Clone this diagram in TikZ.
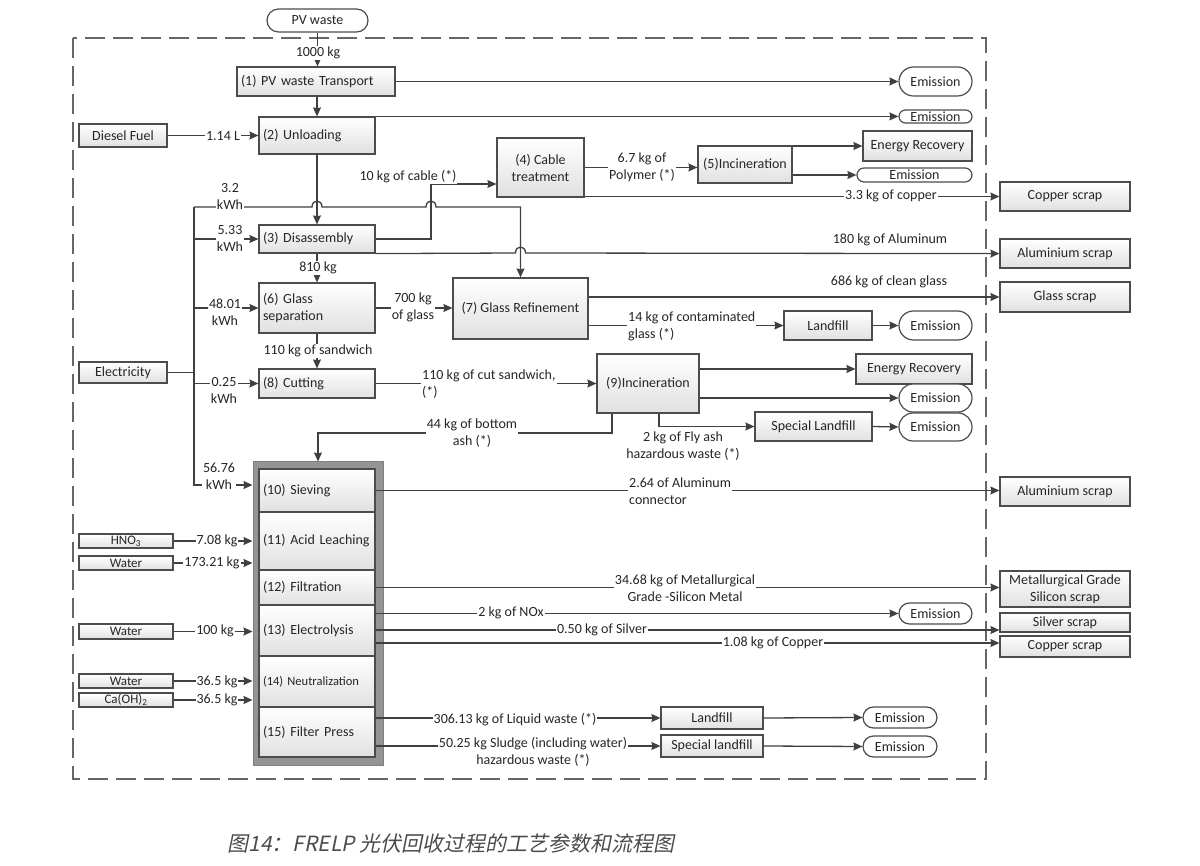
\documentclass[tikz,border=0pt]{standalone}
\usepackage{fontspec}
\setmainfont{Carlito}
\newfontfamily\cjk[FakeSlant=0.2]{Noto Sans CJK SC}
\usetikzlibrary{arrows.meta,shapes.misc,calc}
\begin{document}
\begin{tikzpicture}[x=1pt,y=-1pt,
  every node/.style={font=\fontsize{14}{17}\selectfont, text=black!85},
  ln/.style={draw=black!75, line width=1.3pt},
  arr/.style={ln, -{Stealth[length=9pt,width=8pt,inset=1pt]}},
  box/.style={draw=black!70, line width=1.2pt, top color=white, bottom color=black!12, inner sep=0pt, align=center},
  sz/.style 2 args={minimum width=#1pt, minimum height=#2pt},
  lbox/.style 2 args={draw=black!70, line width=1.2pt, top color=white, bottom color=black!12, text width=#1pt, minimum height=#2pt, align=left, inner xsep=4pt, inner ysep=0pt},
  pill/.style={rounded rectangle, draw=black!70, line width=1.2pt, fill=white, inner sep=0pt},
  smallbox/.style={box, font=\fontsize{13}{15}\selectfont},
  lab/.style={fill=white, inner sep=1pt, align=center},
]
\useasboundingbox (0,0) rectangle (1200,866);
\fill[white] (0,0) rectangle (1200,866);

% system boundary
\draw[draw=black!60, line width=1.4pt, dash pattern=on 20pt off 8pt] (73,38) rectangle (986,779);

% ---------- nodes ----------
\node[pill, sz={101}{23}] (pv) at (317.5,20.5) {PV waste};
\node[lbox={150}{29}] (tr) at (316,81.5) {(1) PV waste Transport};
\node[lbox={108}{37}] (unl) at (317,135.5) {(2) Unloading};
\node[box, sz={88}{23}] (diesel) at (123,135.5) {Diesel Fuel};
\node[lbox={108}{28}] (dis) at (317,239) {(3) Disassembly};
\node[lbox={108}{50}] (gs) at (317,308) {(6) Glass\\separation};
\node[lbox={108}{29}] (cut) at (317,383.5) {(8) Cutting};
\node[box, sz={88}{21}] (elec) at (123,372.5) {Electricity};
\node[box, sz={87}{59}] (cab) at (540.5,167.5) {(4) Cable\\treatment};
\node[box, sz={94}{37}] (inc5) at (745,164.5) {(5)Incineration};
\node[box, sz={109}{30}] (er1) at (917.5,146) {Energy Recovery};
\node[pill, sz={73}{29}] (em1) at (935.5,81.5) {Emission};
\node[pill, sz={73}{13}] (em2) at (935.5,116.5) {Emission};
\node[pill, sz={115}{14}] (em3) at (914.5,175) {Emission};
\node[box, sz={130}{29}] (cs1) at (1065,196.5) {Copper scrap};
\node[box, sz={130}{29}] (as1) at (1065,253.5) {Aluminium scrap};
\node[box, sz={135}{61}] (gr) at (520.5,308.5) {(7) Glass Refinement};
\node[box, sz={130}{30}] (gsc) at (1065,297) {Glass scrap};
\node[box, sz={88}{29}] (lf1) at (828,325.5) {Landfill};
\node[pill, sz={73}{29}] (em4) at (935.5,325.5) {Emission};
\node[box, sz={102}{59}] (inc9) at (648,383.5) {(9)Incineration};
\node[box, sz={116}{30}] (er2) at (914,369) {Energy Recovery};
\node[pill, sz={73}{28}] (em5) at (935.5,398) {Emission};
\node[box, sz={117}{29}] (sl1) at (813.5,426.5) {Special Landfill};
\node[pill, sz={73}{28}] (em6) at (935.5,427) {Emission};

% hydrometallurgical stack
\node[draw=black!50, fill=black!42, line width=1pt, sz={130}{303}, inner sep=0pt] (stack) at (318,613.5) {};
\node[lbox={108}{43}] (s10) at (317,490.5) {(10) Sieving};
\node[lbox={108}{58}] (s11) at (317,541) {(11) Acid Leaching};
\node[lbox={108}{35}] (s12) at (317,587.5) {(12) Filtration};
\node[lbox={108}{51}] (s13) at (317,630.5) {(13) Electrolysis};
\node[lbox={108}{51}, font=\fontsize{12.5}{15}\selectfont] (s14) at (317,681.5) {(14) Neutralization};
\node[lbox={108}{50}] (s15) at (317,732) {(15) Filter Press};

\node[box, sz={130}{29}] (as2) at (1065,491.5) {Aluminium scrap};
\node[smallbox, sz={94}{14}] (hno3) at (126,541) {HNO\textsubscript{3}};
\node[smallbox, sz={94}{14}] (w1) at (126,563) {Water};
\node[box, sz={130}{36}] (mg) at (1065,589) {Metallurgical Grade\\Silicon scrap};
\node[pill, sz={73}{21}] (em7) at (935.5,613.5) {Emission};
\node[box, sz={130}{19}] (ss) at (1065,622.5) {Silver scrap};
\node[box, sz={130}{21}] (cs2) at (1065,646.5) {Copper scrap};
\node[smallbox, sz={94}{15}] (w2) at (126,631.5) {Water};
\node[smallbox, sz={94}{14}] (w3) at (126,681) {Water};
\node[smallbox, sz={94}{14}] (ca) at (126,700) {Ca(OH)\textsubscript{2}};
\node[box, sz={102}{22}] (lf2) at (712,718) {Landfill};
\node[box, sz={102}{22}] (sl2) at (712,746) {Special landfill};
\node[pill, sz={74}{21}] (em8) at (900,717.5) {Emission};
\node[pill, sz={74}{21}] (em9) at (900,746.5) {Emission};

% ---------- connectors ----------
\coordinate (busT) at (194,207);
\coordinate (busB) at (194,485);

\draw[arr] (pv.south) -- (pv.south |- tr.north);
\draw[arr] (unl.north |- tr.south) -- (unl.north);
\draw[arr] (tr.east) -- (em1.west);
\draw[arr] (unl.north east) -- (unl.north east -| em2.west);
\draw[arr] (diesel.east) -- (unl.west);
\draw[arr] (unl.south) -- (dis.north);
\draw[arr] (dis.east) -- (431,239) -- (431,184) -- (cab.west |- 0,184);

\draw[ln] (elec.east) -- (busT |- elec.east);
\draw[arr] (busT) -- (312,207) .. controls (312,199) and (322,199) .. (322,207)
  -- (426,207) .. controls (426,199) and (436,199) .. (436,207)
  -- (gr.north |- busT) -- (gr.north);
\draw[arr] (busT) -- (busB) -- (stack.west |- busB);
\draw[arr] (busT |- dis.west) -- (dis.west);
\draw[arr] (busT |- gs.west) -- (gs.west);
\draw[arr] (busT |- cut.west) -- (cut.west);

\draw[arr] (dis.south) -- (gs.north);
\draw[arr] (dis.south east) -- (515.5,253) .. controls (515.5,245) and (525.5,245) .. (525.5,253)
  -- (dis.south east -| as1.west);
\draw[arr] (gs.east) -- (gr.west |- gs.east);
\draw[arr] (gs.south) -- (cut.north);
\draw[arr] (gr.east |- gsc.west) -- (gsc.west);
\draw[arr] (gr.east |- lf1.west) -- (lf1.west);
\draw[arr] (lf1.east) -- (em4.west);
\draw[arr] (cut.east) -- (inc9.west);
\draw[arr] (inc9.east |- er2.west) -- (er2.west);
\draw[arr] (inc9.east |- em5.west) -- (em5.west);
\draw[arr] (659,0 |- inc9.south) -- (659,0 |- sl1.west) -- (sl1.west);
\draw[arr] (sl1.east) -- (em6.west);
\draw[arr] (612,0 |- inc9.south) -- (612,433) -- (stack.north |- 0,433) -- (stack.north);

\draw[arr] (cab.east) -- (inc5.west |- cab.east);
\draw[arr] (inc5.east |- er1.west) -- (er1.west);
\draw[arr] (inc5.east |- em3.west) -- (em3.west);
\draw[arr] (cab.east |- cs1.west) -- (cs1.west);

\draw[arr] (s10.east) -- (s10.east -| as2.west);
\draw[arr] (s12.east) -- (s12.east -| mg.west);
\draw[arr] (s13.east |- em7.west) -- (em7.west);
\draw[arr] (s13.east |- 0,630) -- (ss.west |- 0,630);
\draw[arr] (s13.east |- 0,643) -- (cs2.west |- 0,643);
\draw[arr] (hno3.east) -- (stack.west |- hno3.east);
\draw[arr] (w1.east) -- (stack.west |- w1.east);
\draw[arr] (w2.east) -- (stack.west |- w2.east);
\draw[arr] (w3.east) -- (stack.west |- w3.east);
\draw[arr] (ca.east) -- (stack.west |- ca.east);
\draw[arr] (s15.east |- lf2.west) -- (lf2.west);
\draw[arr] (s15.east |- sl2.west) -- (sl2.west);
\draw[arr] (lf2.east) -- (em8.west);
\draw[arr] (sl2.east) -- (em9.west);

% ---------- labels ----------
\node[lab] at (318,53) {1000 kg};
\node[lab] at (223,136) {1.14 L};
\node[lab] at (230,196) {3.2\\kWh};
\node[lab] at (230,238.5) {5.33\\kWh};
\node[lab] at (225,312) {48.01\\kWh};
\node[lab] at (224,390) {0.25\\kWh};
\node[lab] at (219,476) {56.76\\kWh};
\node[lab] at (318,268) {810 kg};
\node[lab] at (413,307) {700 kg\\of glass};
\node[lab] at (318,351) {110 kg of sandwich};
\node[lab] at (408,177) {10 kg of cable (*)};
\node[lab] at (642,167.5) {6.7 kg of\\Polymer (*)};
\node[lab] at (891,196) {3.3 kg of copper};
\node at (890,240) {180 kg of Aluminum};
\node at (889,282) {686 kg of clean glass};
\node[lab, align=left, anchor=west] at (627,326) {14 kg of contaminated\\glass (*)};
\node[lab, align=left, anchor=west] at (421,384) {110 kg of cut sandwich,\\(*)};
\node[lab] at (472,433) {44 kg of bottom\\ash (*)};
\node[align=center] at (683,446) {2 kg of Fly ash\\hazardous waste (*)};
\node[lab, align=left, anchor=west] at (628,491) {2.64 of Aluminum\\connector};
\node[lab] at (685,588) {34.68 kg of Metallurgical\\Grade -Silicon Metal};
\node[lab] at (511,613) {2 kg of NOx};
\node[lab] at (602,630) {0.50 kg of Silver};
\node[lab] at (773,643) {1.08 kg of Copper};
\node[lab] at (217,541) {7.08 kg};
\node[lab] at (212,563) {173.21 kg};
\node[lab] at (215,631) {100 kg};
\node[lab] at (217,682) {36.5 kg};
\node[lab] at (217,700) {36.5 kg};
\node[lab] at (515,720) {306.13 kg of Liquid waste (*)};
\node[lab] at (533,752) {50.25 kg Sludge (including water)\\hazardous waste (*)};

% caption
\node[text=black!70, font=\cjk\fontsize{21}{24}\selectfont] (cap) at (451,843) {图14：FRELP 光伏回收过程的工艺参数和流程图};
\end{tikzpicture}
\end{document}
